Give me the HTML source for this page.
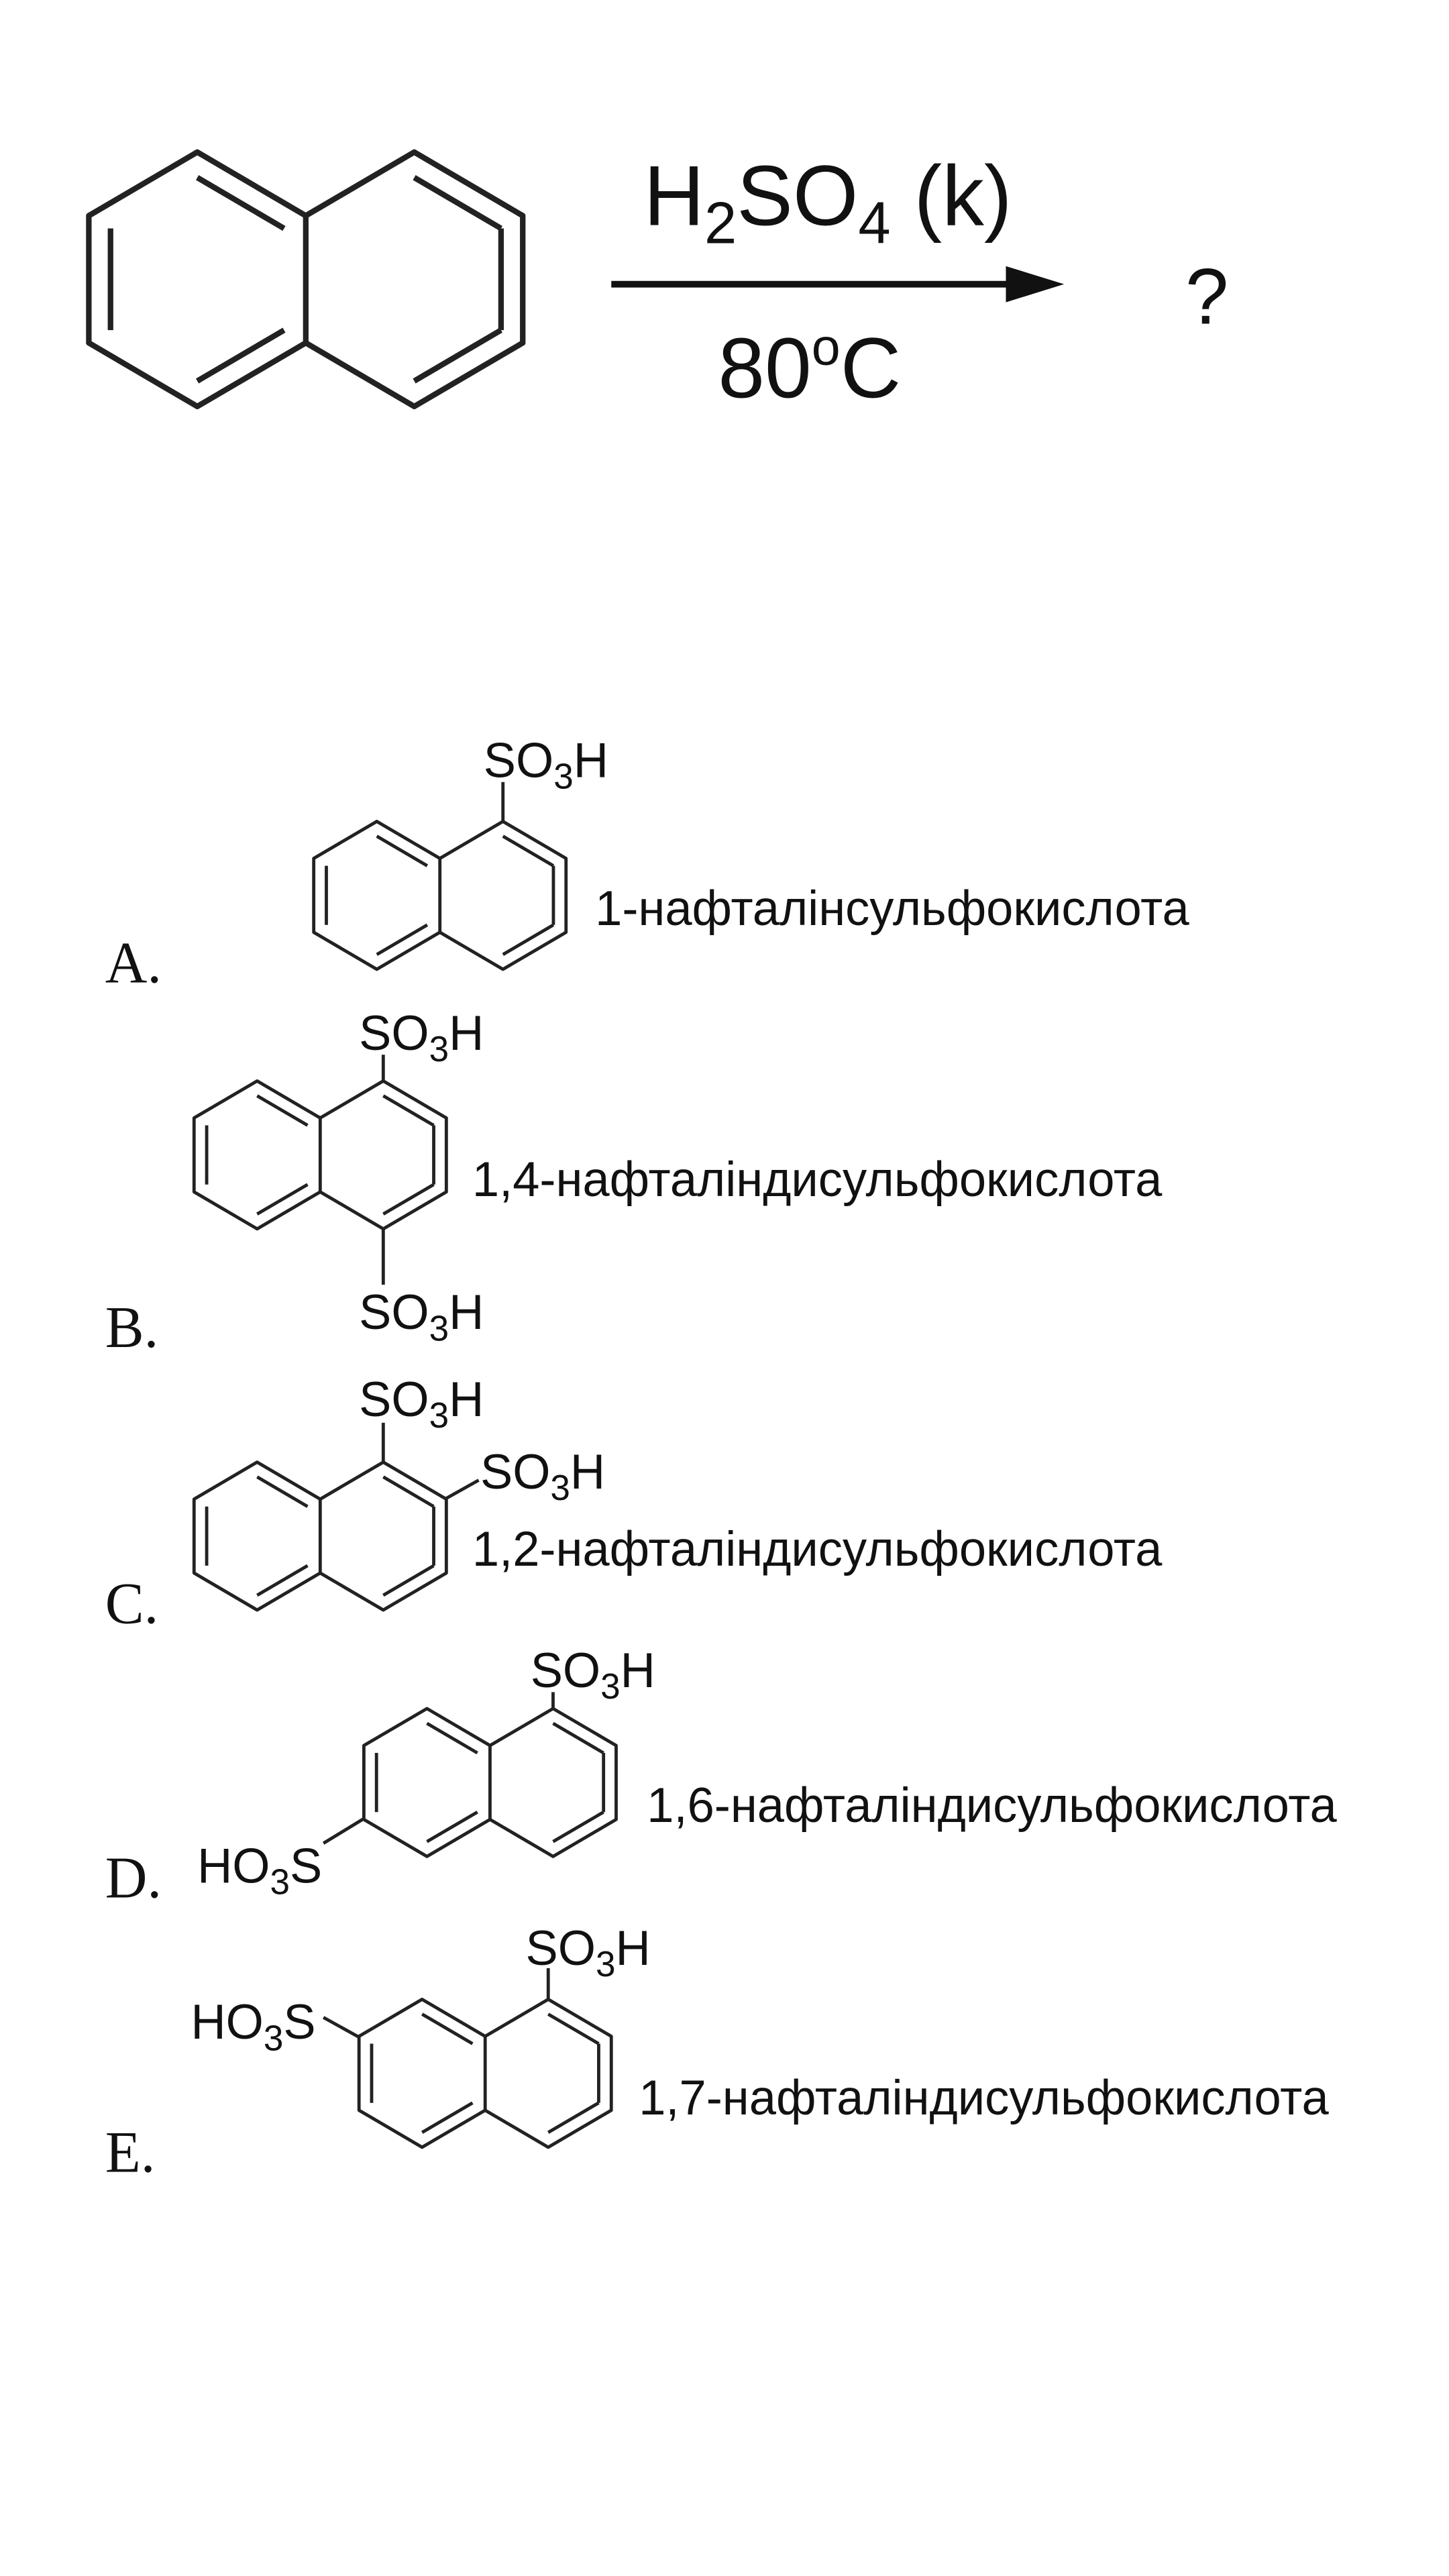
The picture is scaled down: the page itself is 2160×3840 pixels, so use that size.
<!DOCTYPE html>
<html><head><meta charset="utf-8"><style>
html,body{margin:0;padding:0;background:#fff;}
svg{display:block;}
text{font-family:"Liberation Sans",sans-serif;fill:#111;}
.l{font-family:"Liberation Serif",serif;font-size:36px;}
.s{font-size:30px;}
</style></head><body>
<svg width="2160" height="3840" viewBox="0 0 896 1568" preserveAspectRatio="none" xmlns="http://www.w3.org/2000/svg">
<defs>
<g id="n" fill="none" stroke="#222" stroke-width="2" stroke-linejoin="round">
<polygon points="0,-45 39,-22.5 39,22.5 0,45 -39,22.5 -39,-22.5"/>
<polyline points="39,-22.5 78,-45 117,-22.5 117,22.5 78,45 39,22.5"/>
<line x1="-31.2" y1="-18" x2="-31.2" y2="18"/>
<line x1="0" y1="-36" x2="31.2" y2="-18"/>
<line x1="0" y1="36" x2="31.2" y2="18"/>
<line x1="78" y1="-36" x2="109.2" y2="-18"/>
<line x1="109.2" y1="-18" x2="109.2" y2="18"/>
<line x1="78" y1="36" x2="109.2" y2="18"/>
</g>
</defs>
<!-- top reaction -->
<use href="#n" transform="translate(122,170) scale(1.72)"/>
<line x1="378" y1="173" x2="635" y2="173" stroke="#111" stroke-width="4"/>
<polygon points="622,162 658,173 622,184" fill="#111"/>
<text x="398" y="137" font-size="52">H<tspan font-size="36" dy="11">2</tspan><tspan dy="-11">SO</tspan><tspan font-size="36" dy="11">4</tspan><tspan dy="-11"> (k)</tspan></text>
<text x="444" y="242" font-size="52">80<tspan font-size="32" dy="-20">o</tspan><tspan dy="20">C</tspan></text>
<text x="733" y="197" font-size="48">?</text>

<!-- A -->
<use href="#n" transform="translate(233,545)"/>
<line x1="311" y1="500" x2="311" y2="476" stroke="#222" stroke-width="2"/>
<text class="s" x="299" y="473">SO<tspan font-size="22" dy="7">3</tspan><tspan dy="-7">H</tspan></text>
<text class="s" x="368" y="563">1-нафталінсульфокислота</text>
<text class="l" x="65" y="598">A.</text>

<!-- B -->
<use href="#n" transform="translate(159,703)"/>
<line x1="237" y1="658" x2="237" y2="642" stroke="#222" stroke-width="2"/>
<line x1="237" y1="748" x2="237" y2="782" stroke="#222" stroke-width="2"/>
<text class="s" x="222" y="639">SO<tspan font-size="22" dy="7">3</tspan><tspan dy="-7">H</tspan></text>
<text class="s" x="222" y="809">SO<tspan font-size="22" dy="7">3</tspan><tspan dy="-7">H</tspan></text>
<text class="s" x="292" y="728">1,4-нафталіндисульфокислота</text>
<text class="l" x="65" y="820">B.</text>

<!-- C -->
<use href="#n" transform="translate(159,935)"/>
<line x1="237" y1="890" x2="237" y2="866" stroke="#222" stroke-width="2"/>
<line x1="276" y1="912" x2="296" y2="901" stroke="#222" stroke-width="2"/>
<text class="s" x="222" y="862">SO<tspan font-size="22" dy="7">3</tspan><tspan dy="-7">H</tspan></text>
<text class="s" x="297" y="906">SO<tspan font-size="22" dy="7">3</tspan><tspan dy="-7">H</tspan></text>
<text class="s" x="292" y="953">1,2-нафталіндисульфокислота</text>
<text class="l" x="65" y="988">C.</text>

<!-- D -->
<use href="#n" transform="translate(264,1085)"/>
<line x1="342" y1="1040" x2="342" y2="1030" stroke="#222" stroke-width="2"/>
<line x1="225" y1="1107" x2="200" y2="1122" stroke="#222" stroke-width="2"/>
<text class="s" x="328" y="1027">SO<tspan font-size="22" dy="7">3</tspan><tspan dy="-7">H</tspan></text>
<text class="s" x="122" y="1146">HO<tspan font-size="22" dy="7">3</tspan><tspan dy="-7">S</tspan></text>
<text class="s" x="400" y="1109">1,6-нафталіндисульфокислота</text>
<text class="l" x="65" y="1155">D.</text>

<!-- E -->
<use href="#n" transform="translate(261,1262)"/>
<line x1="339" y1="1217" x2="339" y2="1198" stroke="#222" stroke-width="2"/>
<line x1="222" y1="1240" x2="200" y2="1228" stroke="#222" stroke-width="2"/>
<text class="s" x="325" y="1196">SO<tspan font-size="22" dy="7">3</tspan><tspan dy="-7">H</tspan></text>
<text class="s" x="118" y="1241">HO<tspan font-size="22" dy="7">3</tspan><tspan dy="-7">S</tspan></text>
<text class="s" x="395" y="1287">1,7-нафталіндисульфокислота</text>
<text class="l" x="65" y="1322">E.</text>
</svg>
</body></html>
